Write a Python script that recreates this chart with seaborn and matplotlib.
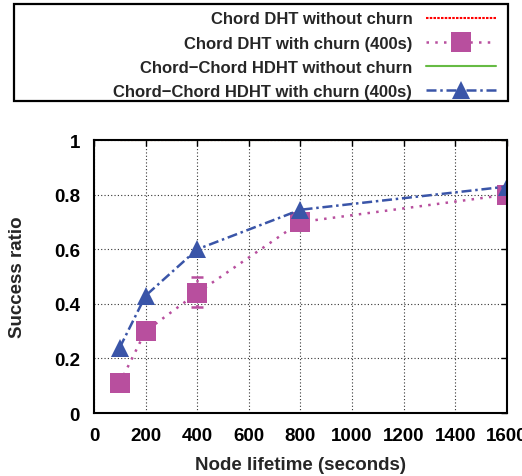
import matplotlib
matplotlib.use("Agg")
import matplotlib.pyplot as plt
import matplotlib.patches as patches
import seaborn as sns
import pandas as pd
from matplotlib.ticker import FormatStrFormatter

# node lifetime (s)
lifetime = [100, 200, 400, 800, 1600]
chord_nochurn = [1.0, 1.0, 1.0, 1.0, 1.0]
chord_churn = [0.11, 0.30, 0.44, 0.70, 0.80]
chord_churn_lo = [0.11, 0.28, 0.39, 0.70, 0.80]
chord_churn_hi = [0.11, 0.32, 0.50, 0.70, 0.80]
hdht_nochurn = [1.0, 1.0, 1.0, 1.0, 1.0]
hdht_churn = [0.24, 0.43, 0.60, 0.745, 0.83]

labels = ['Chord DHT without churn', 'Chord DHT with churn (400s)',
          'Chord\u2212Chord HDHT without churn', 'Chord\u2212Chord HDHT with churn (400s)']

sns.set_style("white")
plt.rcParams['font.family'] = ['Liberation Sans', 'DejaVu Sans']
plt.rcParams['font.weight'] = 'bold'

fig = plt.figure(figsize=(5.22, 4.77), dpi=100)
ax = fig.add_axes([0.180, 0.132, 0.791, 0.572])

df = pd.DataFrame({'x': lifetime, 'c0': chord_nochurn, 'c1': chord_churn,
                   'h0': hdht_nochurn, 'h1': hdht_churn})

sns.lineplot(data=df, x='x', y='c0', ax=ax, color='#ff0000', linestyle=(0, (1.2, 0.6)),
             linewidth=1.5, label=labels[0])
sns.lineplot(data=df, x='x', y='c1', ax=ax, color='#b84f9e', linestyle=(0, (1, 2.5)),
             linewidth=1.8, marker='s', markersize=14, markeredgewidth=0, label=labels[1])
sns.lineplot(data=df, x='x', y='h0', ax=ax, color='#66bb44', linestyle='-',
             linewidth=1.5, label=labels[2])
sns.lineplot(data=df, x='x', y='h1', ax=ax, color='#3a55a8', linestyle=(0, (4, 1.5, 1, 1.5)),
             linewidth=1.8, marker='^', markersize=13, markeredgewidth=0, label=labels[3])

# error bars on churn series
yerr = [[c - lo for c, lo in zip(chord_churn, chord_churn_lo)],
        [hi - c for c, hi in zip(chord_churn, chord_churn_hi)]]
eb = ax.errorbar(lifetime, chord_churn, yerr=yerr, fmt='none', ecolor='#b84f9e',
                 elinewidth=1.8, capsize=4, capthick=1.8, zorder=1)
for line in eb[2]:
    line.set_linestyle((0, (1, 1.5)))

ax.set_xlim(0, 1600)
ax.set_ylim(0, 1)
ax.set_xticks(range(0, 1601, 200))
ax.set_yticks([0, 0.2, 0.4, 0.6, 0.8, 1.0])
ax.yaxis.set_major_formatter(FormatStrFormatter('%g'))
ax.tick_params(direction='in', top=True, right=True, length=4, width=1,
               labelsize=13.5, colors='black')
ax.tick_params(axis='x', pad=10)
ax.tick_params(axis='y', pad=10)
for t in ax.get_xticklabels() + ax.get_yticklabels():
    t.set_fontweight('bold')
ax.grid(True, linestyle=(0, (1, 2)), color='#333333', linewidth=0.8)
for s in ax.spines.values():
    s.set_linewidth(1.5)
    s.set_color('black')

ax.set_xlabel('Node lifetime (seconds)', fontsize=13.5, fontweight='bold', labelpad=9)
ax.set_ylabel('Success ratio', fontsize=13.5, fontweight='bold', labelpad=20)

handles, labs = ax.get_legend_handles_labels()
ax.get_legend().remove()
leg = fig.legend(handles, labs, loc='upper right', bbox_to_anchor=(509 / 522, 1 + 1 / 477),
                 markerfirst=False, frameon=False, fontsize=12, handlelength=4.2,
                 handletextpad=0.8, labelspacing=0.55, borderpad=0.3)
for t in leg.get_texts():
    t.set_fontweight('bold')

fig.patches.append(patches.Rectangle((14 / 522, 1 - 102 / 477), 494 / 522, 97 / 477,
                                     transform=fig.transFigure, fill=False,
                                     edgecolor='black', linewidth=1.6))

fig.savefig('out.png', dpi=100)
